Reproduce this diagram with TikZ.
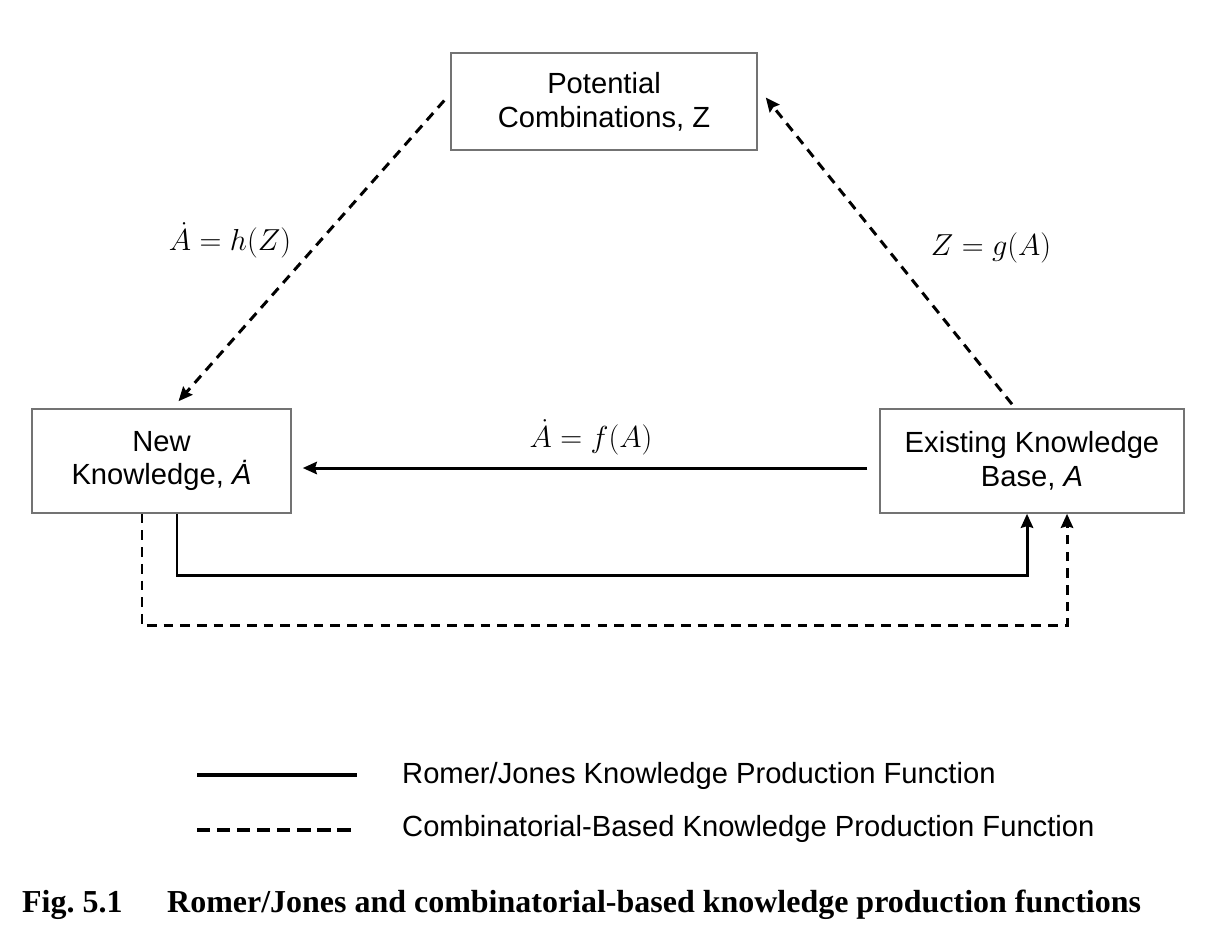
\documentclass[tikz,border=0pt]{standalone}
\usepackage{fontspec}
\setmainfont{Liberation Sans}
\newfontfamily\capfont{Liberation Serif}
\usetikzlibrary{arrows.meta,calc}
\begin{document}
\begin{tikzpicture}[x=0.02cm,y=-0.02cm,
  box/.style={draw=black!55,line width=0.9pt,align=center,inner sep=0pt,
    font=\fontsize{16.6}{19.3}\selectfont},
  conn/.style={line width=1.7pt,-{Stealth[length=8pt,width=7pt,inset=1pt]}},
  dsh/.style={dash pattern=on 5.5pt off 4pt},
  lbl/.style={font=\fontsize{17.5}{20}\selectfont},
  leg/.style={font=\fontsize{16.6}{19}\selectfont,anchor=west},
  captxt/.style={font=\capfont\bfseries\fontsize{18.2}{21}\selectfont,anchor=west}]
\useasboundingbox (0,0) rectangle (1216,931);
\node[box,minimum width=6.12cm,minimum height=1.94cm] (pot) at (604,101.5)
  {Potential\\Combinations, Z};
\node[box,minimum width=5.18cm,minimum height=2.08cm] (new) at (161.5,461)
  {New\\Knowledge, \textit{Ȧ}};
\node[box,minimum width=6.08cm,minimum height=2.08cm] (ex) at (1032,461)
  {Existing Knowledge\\Base, \textit{A}};
% dashed diagonals
\draw[conn,dsh] ($(pot.west)+(-6,-1)$) -- ($(new.north)+(17,-7)$);
\draw[conn,dsh] ($(ex.north)+(-20,-4)$) -- ($(pot.east)+(8,-4)$);
% solid horizontal
\draw[conn] ($(ex.west)+(-12,7)$) -- ($(new.east)+(11,7)$);
% solid loop
\draw[conn] ($(new.south)+(15.5,0)$) |- ($(ex.south)+(-5,62)$) -- ($(ex.south)+(-5,0)$);
% dashed loop
\draw[conn,dsh] ($(new.south)+(-19.5,0)$) |- ($(ex.south)+(35,112)$) -- ($(ex.south)+(35,0)$);
% labels
\node[lbl] (lh) at (230,240) {$\dot{A}=h(Z)$};
\node[lbl] (lg) at (991,248) {$Z=g(A)$};
\node[lbl] (lf) at (591,437) {$\dot{A}=f(A)$};
% legend
\coordinate (l1a) at (197,775); \coordinate (l1b) at (357,775);
\coordinate (l2a) at (197,830); \coordinate (l2b) at (357,830);
\draw[line width=2.2pt] (l1a) -- (l1b);
\draw[line width=2.6pt,dash pattern=on 7.6pt off 3.8pt] (l2a) -- (l2b);
\node[leg] (t1) at (396,776) {Romer/Jones Knowledge Production Function};
\node[leg] (t2) at (396,829) {Combinatorial-Based Knowledge Production Function};
% caption
\node[captxt] (c1) at (16,905) {Fig.\ 5.1};
\node[captxt] (c2) at (161,905) {Romer/Jones and combinatorial-based knowledge production functions};
\end{tikzpicture}
\end{document}
